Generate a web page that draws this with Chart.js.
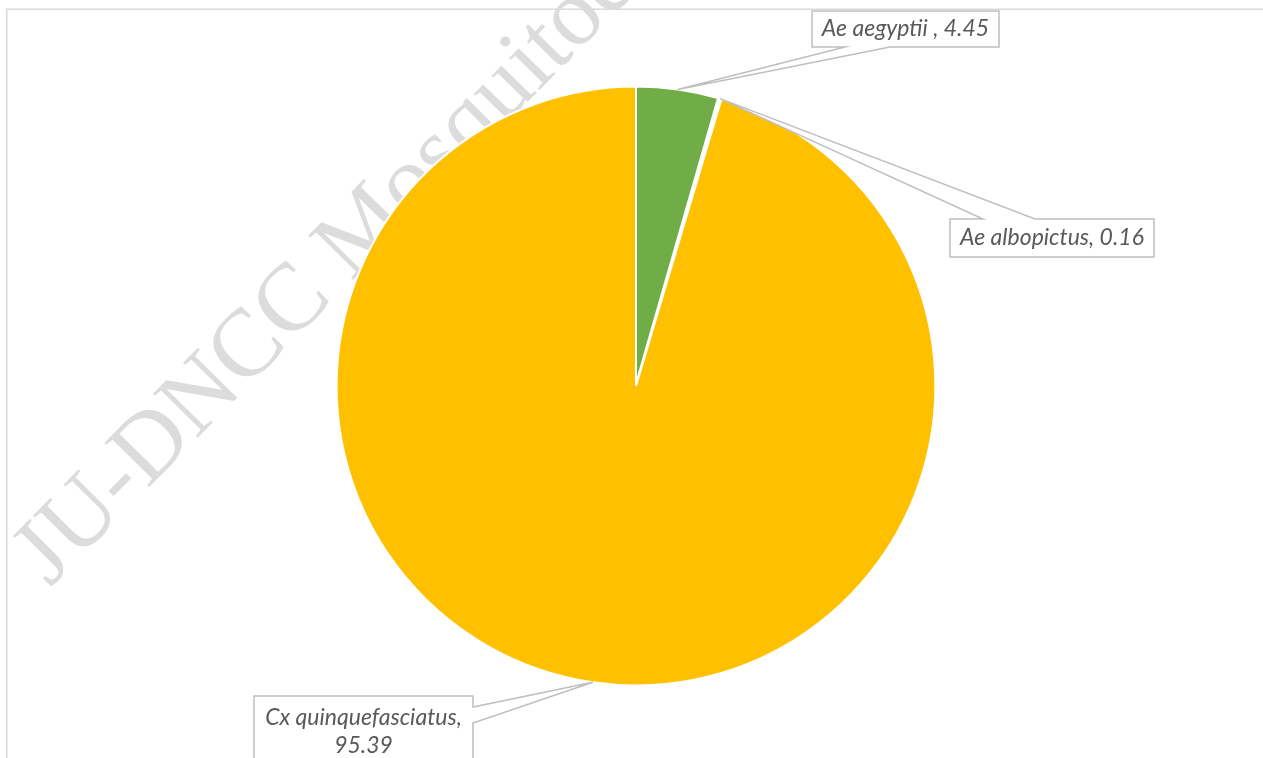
<!DOCTYPE html>
<html>
<head>
<meta charset="utf-8">
<script src="https://cdn.jsdelivr.net/npm/chart.js@4.4.1/dist/chart.umd.min.js"></script>
<style>
  html, body { margin: 0; padding: 0; background: #ffffff; overflow: hidden; }
  #wrap { position: relative; width: 1263px; height: 758px; }
</style>
</head>
<body>
<div id="wrap"><canvas id="c" width="1263" height="758"></canvas></div>
<script>
// ---- data ----
const categories = ['Ae aegyptii', 'Ae albopictus', 'Cx quinquefasciatus'];
const values = [4.45, 0.16, 95.39];
const labelTexts = [['Ae aegyptii , 4.45'], ['Ae albopictus, 0.16'], ['Cx quinquefasciatus,', '95.39']];
const sliceColors = ['#70AD47', '#ED7D31', '#FFC000'];
const sliceBorders = [2, 3.2, 2];
const watermarkText = 'JU-DNCC Mosquitoes';

// ---- callout layout (box rectangles and pointer base on box edge) ----
const callouts = [
  { box: [812, 11, 999, 47], side: 'bottom', base: [845, 890] },
  { box: [950, 219, 1154, 257], side: 'top', base: [983, 1035] },
  { box: [254, 696, 473, 772], side: 'right', base: [707, 723] }
];

const frame = {
  id: 'frame',
  beforeDraw(chart) {
    const ctx = chart.ctx;
    ctx.save();
    ctx.fillStyle = '#ffffff';
    ctx.fillRect(0, 0, chart.width, chart.height);
    ctx.strokeStyle = '#d9d9d9';
    ctx.lineWidth = 1.5;
    ctx.strokeRect(6.75, 9.25, 1400, 900);
    ctx.restore();
  },
  beforeDatasetsDraw(chart) {
    const ctx = chart.ctx;
    ctx.save();
    ctx.translate(50, 588);
    ctx.rotate(-45.5 * Math.PI / 180);
    ctx.font = '96px "Liberation Serif", "DejaVu Serif", serif';
    ctx.fillStyle = '#dcdcdc';
    ctx.textBaseline = 'alphabetic';
    ctx.textAlign = 'left';
    ctx.fillText(watermarkText, 0, 0);
    ctx.restore();
  },
  afterDraw(chart) {
    const ctx = chart.ctx;
    const arcs = chart.getDatasetMeta(0).data;
    ctx.save();
    arcs.forEach((arc, i) => {
      const p = arc.getProps(['x', 'y', 'startAngle', 'endAngle', 'outerRadius'], true);
      const mid = (p.startAngle + p.endAngle) / 2;
      const tx = p.x + p.outerRadius * Math.cos(mid);
      const ty = p.y + p.outerRadius * Math.sin(mid);
      const co = callouts[i];
      const [x0, y0, x1, y1] = co.box;
      ctx.beginPath();
      if (co.side === 'bottom') {
        ctx.moveTo(x0, y0); ctx.lineTo(x1, y0); ctx.lineTo(x1, y1);
        ctx.lineTo(co.base[1], y1); ctx.lineTo(tx, ty); ctx.lineTo(co.base[0], y1);
        ctx.lineTo(x0, y1); ctx.closePath();
      } else if (co.side === 'top') {
        ctx.moveTo(x0, y0); ctx.lineTo(co.base[0], y0); ctx.lineTo(tx, ty);
        ctx.lineTo(co.base[1], y0); ctx.lineTo(x1, y0); ctx.lineTo(x1, y1);
        ctx.lineTo(x0, y1); ctx.closePath();
      } else {
        ctx.moveTo(x0, y0); ctx.lineTo(x1, y0); ctx.lineTo(x1, co.base[0]);
        ctx.lineTo(tx, ty); ctx.lineTo(x1, co.base[1]); ctx.lineTo(x1, y1);
        ctx.lineTo(x0, y1); ctx.closePath();
      }
      ctx.fillStyle = '#ffffff';
      ctx.fill();
      ctx.strokeStyle = '#bfbfbf';
      ctx.lineWidth = 1.5;
      ctx.stroke();

      ctx.fillStyle = '#595959';
      ctx.font = 'italic 23px Lato, "Noto Sans", sans-serif';
      ctx.textAlign = 'center';
      ctx.textBaseline = 'middle';
      const lines = labelTexts[i];
      const lh = 28;
      const cx = (x0 + x1) / 2;
      const firstY = (i === 2) ? 718 : (y0 + y1) / 2;
      lines.forEach((t, k) => ctx.fillText(t, cx, firstY + k * lh));
    });
    ctx.restore();
  }
};

new Chart(document.getElementById('c'), {
  type: 'pie',
  data: {
    labels: categories,
    datasets: [{
      data: values,
      backgroundColor: sliceColors,
      borderColor: '#ffffff',
      borderWidth: sliceBorders
    }]
  },
  options: {
    responsive: false,
    animation: false,
    layout: { padding: { top: 85, bottom: 71, left: 9, right: 0 } },
    plugins: { legend: { display: false }, tooltip: { enabled: false } }
  },
  plugins: [frame]
});
</script>
</body>
</html>
